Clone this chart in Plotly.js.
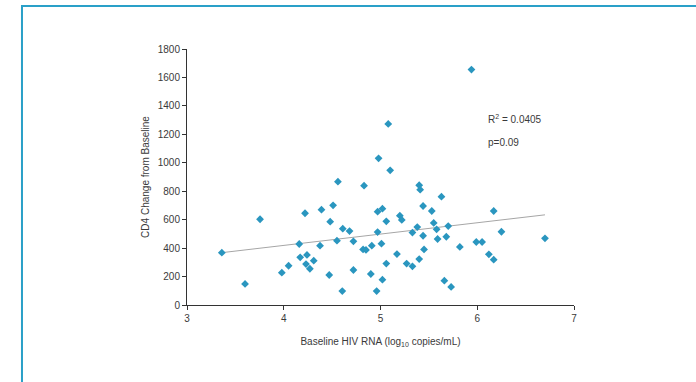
<!DOCTYPE html>
<html>
<head>
<meta charset="utf-8">
<script src="https://cdn.plot.ly/plotly-3.0.1.min.js"></script>
<style>
html,body{margin:0;padding:0;background:#fff;}
#chart{width:696px;height:382px;}
</style>
</head>
<body>
<div id="chart"></div>
<script>
// Baseline HIV RNA (log10 copies/mL)
var rnaLog = [3.36, 3.60, 3.755, 3.98, 4.05, 4.16, 4.17, 4.24, 4.23, 4.27, 4.31, 4.22, 4.375, 4.39, 4.48, 4.47, 4.51, 4.56, 4.55, 4.605, 4.61, 4.68, 4.72, 4.72, 4.83, 4.82, 4.85, 4.91, 4.90, 4.96, 4.97, 4.97, 4.98, 5.02, 5.06, 5.01, 5.02, 5.06, 5.08, 5.10, 5.17, 5.20, 5.22, 5.27, 5.33, 5.33, 5.38, 5.40, 5.40, 5.41, 5.44, 5.44, 5.45, 5.53, 5.55, 5.58, 5.59, 5.63, 5.66, 5.68, 5.70, 5.73, 5.82, 5.94, 5.99, 6.05, 6.12, 6.17, 6.17, 6.25, 6.70];
// CD4 change from baseline
var cd4Change = [368, 148, 603, 227, 276, 429, 335, 352, 288, 255, 312, 645, 417, 670, 586, 211, 701, 867, 452, 98, 537, 520, 448, 246, 839, 391, 387, 417, 218, 98, 656, 513, 1031, 677, 588, 431, 178, 291, 1273, 947, 358, 628, 598, 291, 509, 272, 548, 842, 323, 811, 696, 487, 391, 661, 577, 532, 464, 762, 171, 480, 555, 127, 408, 1655, 443, 443, 356, 661, 319, 515, 469];
// linear trend line end points
var trendX = [3.36, 6.70];
var trendY = [368, 634];
var xTicks = [3, 4, 5, 6, 7];
var yTicks = [0, 200, 400, 600, 800, 1000, 1200, 1400, 1600, 1800];
var statLines = ['R<sup>2</sup> = 0.0405', 'p=0.09'];

var FONT = '"Liberation Sans Narrow", "Arial Narrow", "Liberation Sans", Arial, sans-serif';
var TXT = {size: 10, family: FONT, color: '#3a3a3a'};

var traces = [
  {x: trendX, y: trendY, mode: 'lines', type: 'scatter',
   line: {color: '#a6a6a6', width: 1}, hoverinfo: 'skip'},
  {x: rnaLog, y: cd4Change, mode: 'markers', type: 'scatter',
   marker: {symbol: 'diamond', size: 6, color: '#2a96bf'}}
];

var layout = {
  width: 696, height: 382,
  margin: {l: 187, r: 122, t: 49, b: 77},
  paper_bgcolor: '#ffffff', plot_bgcolor: '#ffffff',
  showlegend: false,
  font: TXT,
  xaxis: {
    range: [3, 7], tickvals: xTicks, ticktext: xTicks.map(String),
    showgrid: false, zeroline: false, showline: true, linecolor: '#333', linewidth: 1,
    ticks: 'outside', ticklen: 4, tickcolor: '#333', tickfont: TXT,
    title: {text: 'Baseline HIV RNA (log<sub>10</sub> copies/mL)', font: TXT, standoff: 14},
    fixedrange: true
  },
  yaxis: {
    range: [0, 1800], tickvals: yTicks, ticktext: yTicks.map(String),
    showgrid: false, zeroline: false, showline: true, linecolor: '#333', linewidth: 1,
    ticks: 'outside', ticklen: 4, tickcolor: '#333', tickfont: TXT,
    title: {text: 'CD4 Change from Baseline', font: TXT, standoff: 6},
    fixedrange: true
  },
  annotations: [
    {xref: 'x', yref: 'y', x: 6.09, y: 1305, xanchor: 'left', yanchor: 'middle', showarrow: false,
     text: statLines[0], font: TXT},
    {xref: 'x', yref: 'y', x: 6.09, y: 1145, xanchor: 'left', yanchor: 'middle', showarrow: false,
     text: statLines[1], font: TXT}
  ],
  shapes: [
    {type: 'path', xref: 'paper', yref: 'paper',
     path: 'M -0.4264,-0.4 L -0.4264,1.168 L 1.35,1.168',
     line: {color: '#2aa0c8', width: 2}}
  ]
};

Plotly.newPlot('chart', traces, layout, {displayModeBar: false, staticPlot: true});
</script>
</body>
</html>
